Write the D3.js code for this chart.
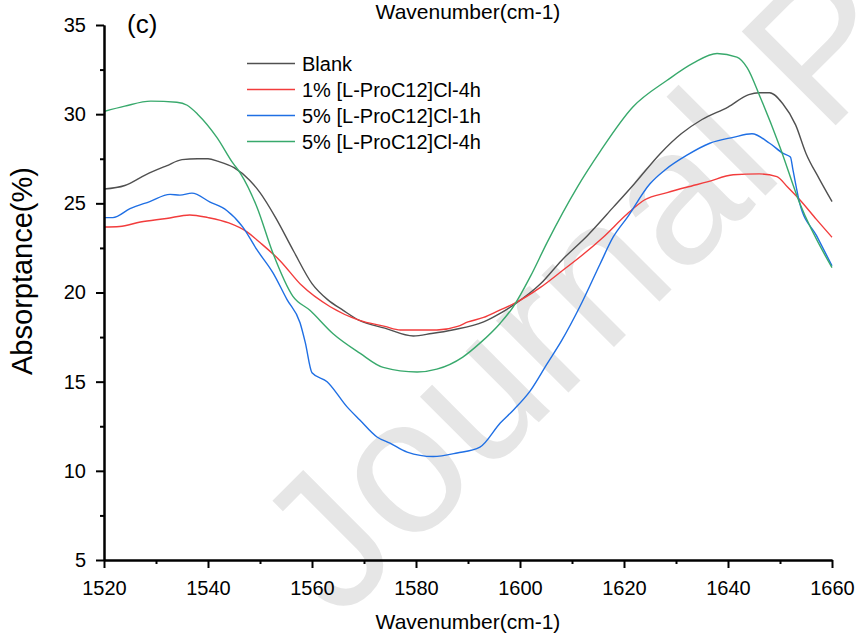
<!DOCTYPE html>
<html><head><meta charset="utf-8">
<script src="https://cdn.jsdelivr.net/npm/d3@7"></script>
<style>
body{margin:0;background:#fff;}
svg text{font-family:"Liberation Sans",Arial,sans-serif;fill:#000;}
</style></head>
<body><svg id="c" width="857" height="640"></svg>
<script>
// ---- data ----
const seriesNames = ["Blank", "1% [L-ProC12]Cl-4h", "5% [L-ProC12]Cl-1h", "5% [L-ProC12]Cl-4h"];
const seriesColors = ["#505050", "#f23c3c", "#1f6fe4", "#38a96c"];

const blankX = [1520,1524,1528,1532,1535,1538,1540,1542,1545,1548,1550,1553,1556.5,1560,1563,1566,1569,1574,1579.5,1583,1587,1593,1596,1599,1604,1608,1613,1618,1622,1627,1631,1635,1640,1644,1646,1648,1650.5,1653,1655,1657.5,1660];
const blankY = [25.8,26.0,26.6,27.1,27.45,27.5,27.5,27.35,27.0,26.3,25.6,24.2,22.3,20.5,19.6,19.0,18.45,18.0,17.56,17.7,17.9,18.35,18.8,19.35,20.5,21.8,23.2,24.8,26.1,27.8,28.9,29.7,30.4,31.1,31.2,31.2,30.6,29.4,27.8,26.4,25.1];

const red1X = [1520,1523,1527,1532,1536.5,1540,1544,1547.5,1550,1553.8,1558,1563.5,1569,1574,1577,1584,1588,1590,1593,1596,1599,1604,1608.3,1612,1616,1620.6,1624,1628.3,1632,1636,1641,1646,1649.4,1651.5,1653.8,1657,1660];
const red1Y = [23.67,23.7,23.95,24.15,24.35,24.2,23.9,23.4,22.8,21.8,20.4,19.2,18.45,18.1,17.9,17.9,18.1,18.35,18.6,19.0,19.4,20.3,21.26,22.1,23.1,24.4,25.2,25.6,25.9,26.2,26.6,26.65,26.5,25.9,25.2,24.1,23.1];

const blue1hX = [1520,1521.7,1525,1528.8,1532.7,1534.6,1536.9,1540.4,1543.6,1546.7,1549.4,1552.5,1555.2,1557.7,1558.7,1560,1562.9,1566.7,1569.2,1572.5,1575,1578.3,1583.3,1587.9,1592.3,1596.2,1598.7,1602,1605.2,1608,1611.5,1615.4,1617.9,1620.6,1625,1628,1632.1,1636.5,1641,1644.6,1648,1650.6,1652,1652.5,1653.8,1657,1660];
const blue1hY = [24.2,24.2,24.7,25.1,25.5,25.46,25.57,25.07,24.6,23.67,22.4,21.1,19.6,18.3,17.2,15.5,15.0,13.6,12.85,11.9,11.55,11.05,10.8,11.0,11.33,12.68,13.4,14.5,16.0,17.3,19.2,21.6,23.1,24.2,26.1,26.9,27.7,28.37,28.7,28.9,28.37,27.8,27.6,26.86,25.0,23.2,21.5];

const green4hX = [1520,1524,1529,1534,1536,1538,1541.7,1544.8,1546.2,1549.4,1552.5,1556.3,1559.6,1564,1569.2,1573.7,1580.2,1584,1589,1592.3,1596.2,1598.7,1602,1605.2,1611,1615.4,1621.7,1628.3,1633.3,1637.9,1641.7,1643.7,1646.2,1650,1653.8,1660];
const green4hY = [30.15,30.45,30.73,30.67,30.5,30.0,28.7,27.25,26.7,24.8,22.2,19.8,19.0,17.7,16.6,15.8,15.54,15.7,16.38,17.16,18.28,19.2,20.9,22.8,25.9,27.9,30.4,31.9,32.86,33.4,33.2,32.6,30.95,28.15,25.0,21.4];

const xMajorTicks = [1520,1540,1560,1580,1600,1620,1640,1660];
const xMinorTicks = [1530,1550,1570,1590,1610,1630,1650];
const yMajorTicks = [5,10,15,20,25,30,35];
const yMinorTicks = [7.5,12.5,17.5,22.5,27.5,32.5];
const xTitle = "Wavenumber(cm-1)";
const yTitle = "Absorptance(%)";
const panelLabel = "(c)";
const watermark = "Journal Pre-proof";

// ---- drawing ----
const svg = d3.select("#c");
const x = d3.scaleLinear().domain([1520,1660]).range([104,832]);
const y = d3.scaleLinear().domain([5,35]).range([560,25]);

// watermark
svg.append("text").attr("transform","translate(339,622) rotate(-45)")
  .style("font-size","193px").style("fill","#e6e6e6").text(watermark);

// series
const series = [
  {xs: blankX, ys: blankY},
  {xs: red1X, ys: red1Y},
  {xs: blue1hX, ys: blue1hY},
  {xs: green4hX, ys: green4hY}
];
const line = d3.line().x(d=>x(d[0])).y(d=>y(d[1])).curve(d3.curveMonotoneX);
series.forEach((s,i)=>{
  const pts = s.xs.map((v,j)=>[v,s.ys[j]]);
  svg.append("path").datum(pts).attr("d",line).attr("fill","none")
    .attr("stroke",seriesColors[i]).attr("stroke-width",1.4);
});

// axes
function styleAxis(g){
  g.select(".domain").attr("stroke","#000").attr("stroke-width",2);
  g.selectAll(".tick line").attr("stroke","#000").attr("stroke-width",2);
  g.selectAll(".tick text").style("font-size","20px").style("font-family","'Liberation Sans',Arial,sans-serif").attr("fill","#000");
}
const gx = svg.append("g").attr("transform","translate(0,560)")
  .call(d3.axisBottom(x).tickValues(xMajorTicks).tickFormat(d3.format("d")).tickSize(8).tickSizeOuter(0).tickPadding(13));
styleAxis(gx);
const gxm = svg.append("g").attr("transform","translate(0,560)")
  .call(d3.axisBottom(x).tickValues(xMinorTicks).tickFormat("").tickSize(4).tickSizeOuter(0));
styleAxis(gxm);
const gy = svg.append("g").attr("transform","translate(104,0)")
  .call(d3.axisLeft(y).tickValues(yMajorTicks).tickFormat(d3.format("d")).tickSize(8).tickSizeOuter(0).tickPadding(10));
styleAxis(gy);
const gym = svg.append("g").attr("transform","translate(104,0)")
  .call(d3.axisLeft(y).tickValues(yMinorTicks).tickFormat("").tickSize(4).tickSizeOuter(0));
styleAxis(gym);

// titles
svg.append("text").attr("x",468).attr("y",629).attr("text-anchor","middle").style("font-size","21px").text(xTitle);
svg.append("text").attr("x",468).attr("y",19).attr("text-anchor","middle").style("font-size","21px").text(xTitle);
svg.append("text").attr("transform","translate(32,271) rotate(-90)").attr("text-anchor","middle").style("font-size","29px").text(yTitle);
svg.append("text").attr("x",127).attr("y",33).style("font-size","26px").text(panelLabel);

// legend
const lg = svg.append("g");
seriesNames.forEach((n,i)=>{
  const yy = 63.5 + i*26;
  lg.append("line").attr("x1",247).attr("x2",295).attr("y1",yy).attr("y2",yy)
    .attr("stroke",seriesColors[i]).attr("stroke-width",1.4);
  lg.append("text").attr("x",302).attr("y",yy+7).style("font-size","20px").text(n);
});
</script></body></html>
